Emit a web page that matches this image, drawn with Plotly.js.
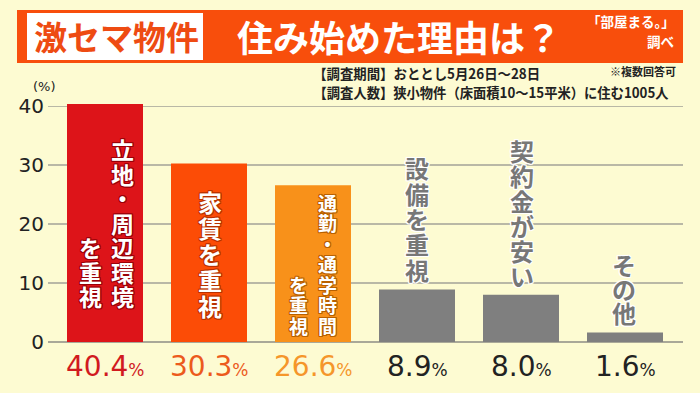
<!DOCTYPE html>
<html>
<head>
<meta charset="utf-8">
<script src="https://cdn.plot.ly/plotly-3.0.1.min.js"></script>
<style>
html,body{margin:0;padding:0;background:#fdfbd2;}
#chart{width:700px;height:393px;}
</style>
</head>
<body>
<div id="chart"></div>
<script>
// ---- data ----
const categories = ["立地・周辺環境を重視", "家賃を重視", "通勤・通学時間を重視", "設備を重視", "契約金が安い", "その他"];
const values = [40.4, 30.3, 26.6, 8.9, 8.0, 1.6];
const labelColumns = [["立地・周辺環境", "を重視"], ["家賃を重視"], ["通勤・通学時間", "を重視"], ["設備を重視"], ["契約金が安い"], ["その他"]];
const yTickVals = [0, 10, 20, 30, 40];
const yTickText = ["0", "10", "20", "30", "40"];
const headerTag = "激セマ物件";
const headerTitle = "住み始めた理由は？";
const sourceLines = ["「部屋まる。」", "調べ"];
const infoLines = ["【調査期間】おととし5月26日～28日", "【調査人数】狭小物件（床面積10～15平米）に住む1005人"];
const infoNote = "※複数回答可";
const unitLabel = "(%)";

// ---- styles ----
const BG = "#fdfbd2";
const barColors = ["#dd1419", "#fc4c06", "#f8911a", "#7f7f7f", "#7f7f7f", "#7f7f7f"];
const pctColors = ["#d11a1f", "#ec5a1c", "#f5962a", "#222222", "#222222", "#222222"];
const L = 48, R = 17, T = 95, B = 51, W = 700, H = 393;
const plotW = W - L - R, plotH = H - T - B;
const basePx = H - B; // pixel y of value 0
const pxPerUnit = 5.8925;
const yTop = plotH / pxPerUnit;
const catPx = 104, firstCenter = 105;
const xr0 = -(firstCenter - L) / catPx, xr1 = (W - R - firstCenter) / catPx;
const px2x = px => (px - L) / plotW;
const px2y = py => (basePx - py) / plotH;

// label layout per bar: column x-offset(px), bottom(px), font size, step
const labelStyle = [
  {cols: [{dx: 17, bottom: 308.5}, {dx: -15, bottom: 308.5}], size: 23, step: 24.5, fill: "#ffffff", edge: "#9a0008"},
  {cols: [{dx: 1, bottom: 318}], size: 24, step: 26, fill: "#ffffff", edge: "#b83200"},
  {cols: [{dx: 14, bottom: 335.5}, {dx: -15, bottom: 335.5}], size: 19, step: 20.5, fill: "#ffffff", edge: "#b86000"},
  {cols: [{dx: 0, bottom: 282}], size: 24, step: 25.4, fill: "#777777", edge: "#ffffff"},
  {cols: [{dx: 1, bottom: 288}], size: 24, step: 25, fill: "#777777", edge: "#ffffff"},
  {cols: [{dx: -1, bottom: 325}], size: 24, step: 24.3, fill: "#777777", edge: "#ffffff"}
];
// info lines: left px, right px, centre y px
const infoBoxes = [{left: 313, right: 540, cy: 73}, {left: 313, right: 668, cy: 92}];

const JP = "Noto Sans CJK JP, Noto Sans, sans-serif";
const NUM = "DejaVu Sans, Noto Sans, sans-serif";

const trace = {
  type: "bar",
  x: categories.map((c, i) => i),
  y: values,
  marker: {color: barColors, line: {width: 0}},
  hoverinfo: "skip",
  width: 76 / catPx
};

const annotations = [];
// vertical bar labels
labelColumns.forEach((cols, i) => {
  const st = labelStyle[i];
  const e = st.edge;
  const shadow = `1px 1px 0 ${e}, -1px -1px 0 ${e}, 1px -1px 0 ${e}, -1px 1px 0 ${e}, 0 1px 0 ${e}, 0 -1px 0 ${e}, 1px 0 0 ${e}, -1px 0 0 ${e}`;
  cols.forEach((txt, c) => {
    const chars = Array.from(txt);
    const n = chars.length;
    const col = st.cols[c];
    chars.forEach((ch, k) => {
      const centerPx = col.bottom - st.step * (n - 1 - k) - st.step / 2;
      annotations.push({
        x: i, y: 0, xref: "x", yref: "y",
        xshift: col.dx, yshift: basePx - centerPx,
        text: ch, showarrow: false, xanchor: "center", yanchor: "middle",
        font: {family: JP, size: st.size, color: st.fill, weight: 700, shadow: shadow}
      });
    });
  });
});
// percentage labels
values.forEach((v, i) => {
  annotations.push({
    x: i, y: 0, xref: "x", yref: "y", yshift: basePx - 366,
    text: v.toFixed(1) + '<span style="font-size:17px">%</span>',
    showarrow: false, xanchor: "center", yanchor: "middle",
    font: {family: NUM, size: 28, color: pctColors[i]}
  });
});
// header texts
annotations.push({xref: "paper", yref: "paper", x: px2x(116), y: px2y(36), text: headerTag, showarrow: false,
  xanchor: "center", yanchor: "middle", font: {family: JP, size: 33, color: "#ee4b12", weight: 700}});
annotations.push({xref: "paper", yref: "paper", x: px2x(399), y: px2y(36), text: headerTitle, showarrow: false,
  xanchor: "center", yanchor: "middle", font: {family: JP, size: 36, color: "#ffffff", weight: 700}});
annotations.push({xref: "paper", yref: "paper", x: px2x(677), y: px2y(21), text: sourceLines[0], showarrow: false,
  xanchor: "right", yanchor: "middle", font: {family: JP, size: 13.5, color: "#ffffff", weight: 700}});
annotations.push({xref: "paper", yref: "paper", x: px2x(676), y: px2y(41), text: sourceLines[1], showarrow: false,
  xanchor: "right", yanchor: "middle", font: {family: JP, size: 13.5, color: "#ffffff", weight: 700}});
infoLines.forEach((t, k) => {
  const b = infoBoxes[k];
  annotations.push({xref: "paper", yref: "paper", x: px2x((b.left + b.right) / 2), y: px2y(b.cy), text: t, showarrow: false,
    xanchor: "center", yanchor: "middle", font: {family: JP, size: 14, color: "#222222", weight: 700}});
});
annotations.push({xref: "paper", yref: "paper", x: px2x(678), y: px2y(71), text: infoNote, showarrow: false,
  xanchor: "right", yanchor: "middle", font: {family: JP, size: 11, color: "#222222", weight: 700}});
annotations.push({xref: "paper", yref: "paper", x: px2x(44), y: px2y(87), text: unitLabel, showarrow: false,
  xanchor: "center", yanchor: "middle", font: {family: NUM, size: 13, color: "#222222"}});

const shapes = [
  {type: "rect", xref: "paper", yref: "paper", x0: px2x(17), x1: px2x(683), y0: px2y(63), y1: px2y(10),
   fillcolor: "#f84e0c", line: {width: 0}, layer: "below"},
  {type: "rect", xref: "paper", yref: "paper", x0: px2x(27), x1: px2x(203), y0: px2y(60), y1: px2y(13),
   fillcolor: "#ffffff", line: {width: 0}, layer: "below"}
];

const layout = {
  width: W, height: H,
  margin: {l: L, r: R, t: T, b: B, pad: 0},
  paper_bgcolor: BG, plot_bgcolor: BG,
  showlegend: false,
  xaxis: {range: [xr0, xr1], showticklabels: false, showgrid: false, zeroline: false, showline: false, ticks: "", fixedrange: true},
  yaxis: {range: [0, yTop], tickvals: yTickVals, ticktext: yTickText, showgrid: true, gridcolor: "#b9b8a6", gridwidth: 1.5,
    zeroline: true, zerolinecolor: "#a9a898", zerolinewidth: 1.5, showline: false, ticks: "", ticklabelstandoff: 3,
    tickfont: {family: NUM, size: 20, color: "#222222"}, fixedrange: true},
  annotations: annotations,
  shapes: shapes
};

Plotly.newPlot("chart", [trace], layout, {displayModeBar: false, staticPlot: true}).then(gd => {
  // condense the two survey-info lines horizontally to their measured widths
  gd.querySelectorAll("text.annotation-text").forEach(el => {
    const k = infoLines.indexOf(el.textContent);
    if (k >= 0) {
      const b = infoBoxes[k];
      el.setAttribute("textLength", String(b.right - b.left));
      el.setAttribute("lengthAdjust", "spacingAndGlyphs");
    }
  });
});
</script>
</body>
</html>
